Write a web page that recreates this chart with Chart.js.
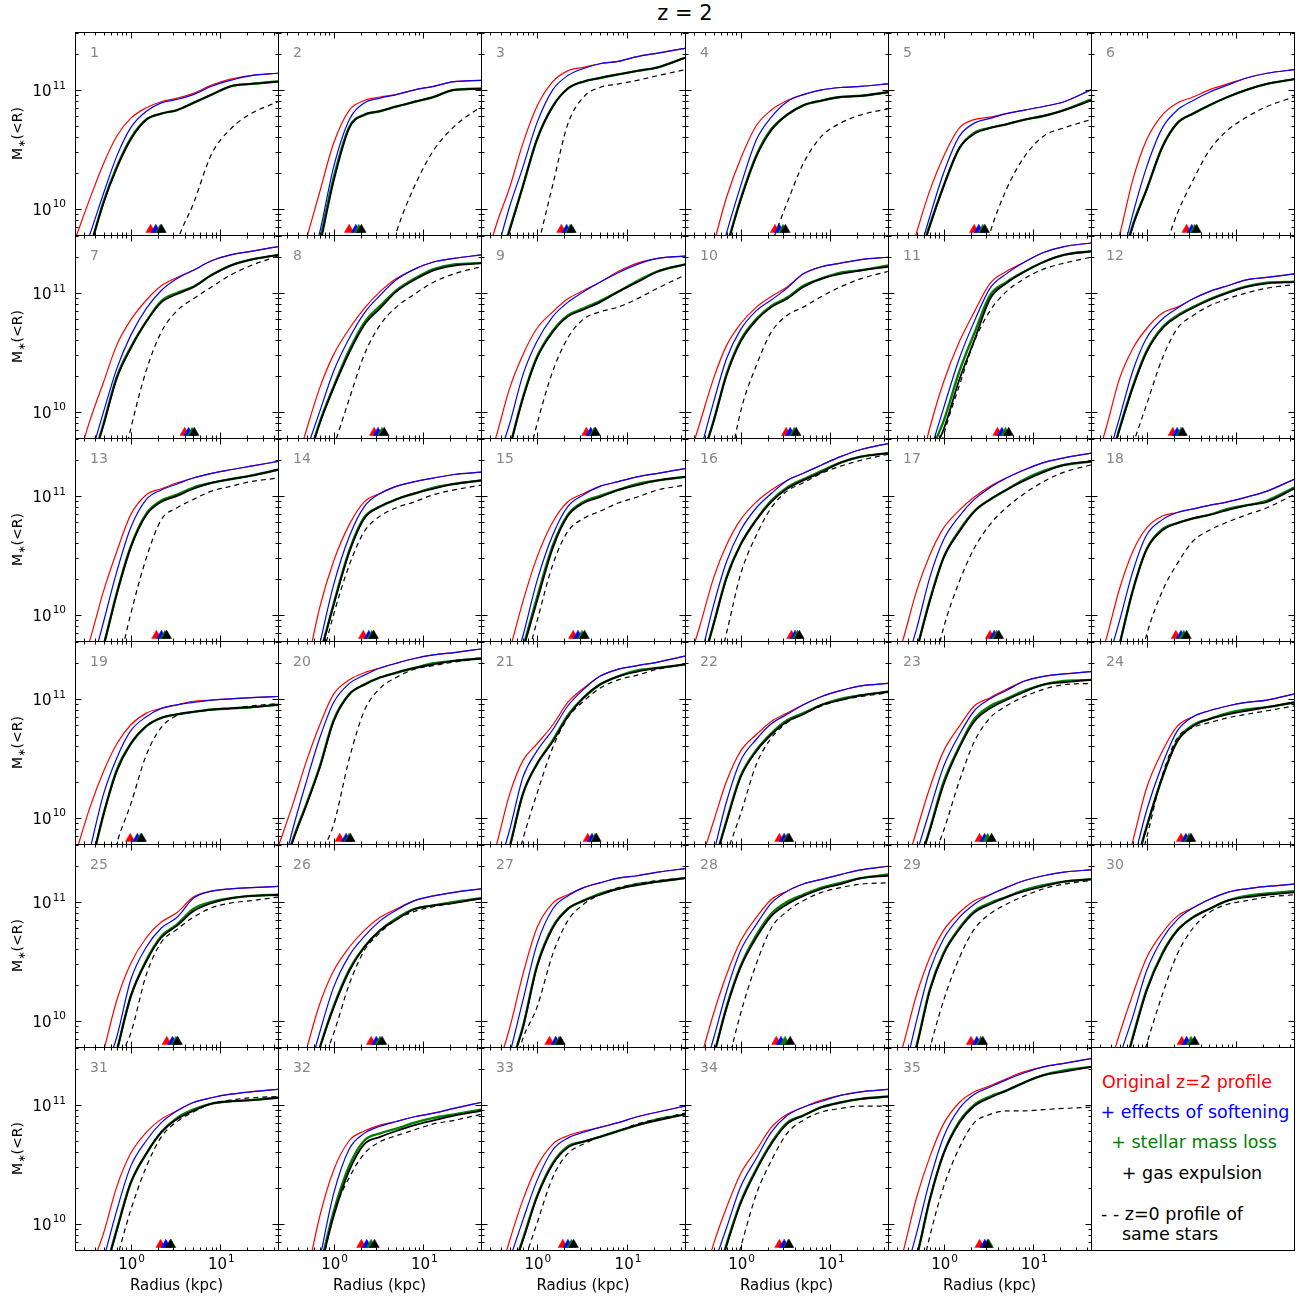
<!DOCTYPE html>
<html>
<head>
<meta charset="utf-8">
<title>z = 2</title>
<script src="https://cdn.jsdelivr.net/npm/chart.js@4.4.1/dist/chart.umd.min.js"></script>
<style>
  html, body { margin: 0; padding: 0; background: #fff; }
  #fig { position: relative; width: 1304px; height: 1297px; overflow: hidden;
         font-family: 'DejaVu Sans', sans-serif; color: #000; }
  #fig canvas { position: absolute; }
  .txt { position: absolute; white-space: nowrap; line-height: 1; }
  .mid { transform: translate(-50%, -50%); }
  .lft { transform: translate(0, -50%); }
</style>
</head>
<body>
<div id="fig">
  <div class="txt mid" style="left:685px; top:13px; font-size:21px;">z = 2</div>
  <div style="position:absolute; left:1091px; top:1047px; width:204px; height:204px; border:1px solid #000; box-sizing:border-box;"></div>
  <div class="txt mid" style="left:1187px; top:1083px; font-size:17.5px; color:#ff0000;">Original z=2 profile</div>
  <div class="txt mid" style="left:1195px; top:1113px; font-size:17.5px; color:#0000ff;">+ effects of softening</div>
  <div class="txt mid" style="left:1194px; top:1143px; font-size:17.5px; color:#008000;">+ stellar mass loss</div>
  <div class="txt mid" style="left:1192px; top:1174px; font-size:17.5px;">+ gas expulsion</div>
  <div class="txt lft" style="left:1101px; top:1215px; font-size:17.5px;">- - z=0 profile of</div>
  <div class="txt lft" style="left:1122px; top:1235px; font-size:17.5px;">same stars</div>
</div>
<script>
const _ = null;

// radii (kpc) where the profiles are sampled
const RADII = [0.24, 0.35, 0.5, 0.7, 1.0, 1.5, 2.2, 3.3, 5, 8, 13, 22, 44];

// axis ranges and ticks
const X_RANGE = [0.24, 44];
const Y_RANGE = [6e9, 3.07e11];
const X_MAJOR = [1, 10];
const X_MINOR = [0.3, 0.4, 0.5, 0.6, 0.7, 0.8, 0.9, 2, 3, 4, 5, 6, 7, 8, 9, 20, 30, 40];
const X_LABELS = ['0', '1'];
const Y_MAJOR = [1e10, 1e11];
const Y_MINOR = [7e9, 8e9, 9e9, 2e10, 3e10, 4e10, 5e10, 6e10, 7e10, 8e10, 9e10, 2e11, 3e11];
const Y_LABELS = ['10', '11'];
const MARKER_LEVEL = 6.65e9;

// log10 M*(<R) at RADII, one row per galaxy (1..35)
const ORIGINAL = [
  [9.74, 10.08, 10.38, 10.61, 10.76, 10.85, 10.90, 10.93, 10.97, 11.04, 11.09, 11.12, 11.14],
  [_, _, 9.75, 10.14, 10.55, 10.83, 10.91, 10.94, 10.96, 11.00, 11.03, 11.07, 11.08],
  [9.40, 9.85, 10.18, 10.55, 10.86, 11.07, 11.16, 11.19, 11.22, 11.24, 11.28, 11.31, 11.35],
  [_, _, 9.70, 10.10, 10.42, 10.70, 10.83, 10.91, 10.96, 11.00, 11.02, 11.03, 11.05],
  [_, 9.40, 9.80, 10.15, 10.44, 10.68, 10.75, 10.77, 10.80, 10.83, 10.86, 10.90, 11.00],
  [_, 9.40, 9.78, 10.24, 10.58, 10.79, 10.89, 10.94, 11.00, 11.05, 11.10, 11.14, 11.17],
  [9.50, 9.92, 10.25, 10.56, 10.77, 10.94, 11.06, 11.13, 11.19, 11.27, 11.32, 11.35, 11.39],
  [_, 9.45, 9.85, 10.20, 10.48, 10.70, 10.87, 11.01, 11.12, 11.20, 11.26, 11.29, 11.32],
  [9.40, 9.78, 10.20, 10.48, 10.70, 10.84, 10.95, 11.02, 11.09, 11.18, 11.25, 11.29, 11.31],
  [9.50, 9.90, 10.28, 10.56, 10.74, 10.88, 10.97, 11.05, 11.16, 11.22, 11.25, 11.28, 11.30],
  [_, _, 9.40, 9.86, 10.25, 10.59, 10.84, 11.08, 11.18, 11.26, 11.34, 11.39, 11.42],
  [9.45, 9.85, 10.28, 10.53, 10.70, 10.83, 10.88, 10.95, 11.01, 11.06, 11.11, 11.13, 11.16],
  [9.40, 9.78, 10.20, 10.53, 10.84, 11.01, 11.06, 11.11, 11.15, 11.19, 11.22, 11.25, 11.29],
  [_, _, 9.55, 10.06, 10.45, 10.76, 10.95, 11.02, 11.08, 11.12, 11.15, 11.18, 11.20],
  [_, _, 9.70, 10.11, 10.48, 10.78, 10.95, 11.02, 11.08, 11.12, 11.16, 11.19, 11.23],
  [9.50, 9.90, 10.31, 10.59, 10.80, 10.95, 11.05, 11.13, 11.19, 11.26, 11.33, 11.39, 11.44],
  [9.40, 9.78, 10.20, 10.50, 10.73, 10.88, 10.99, 11.08, 11.15, 11.22, 11.28, 11.32, 11.36],
  [9.40, 9.78, 10.22, 10.53, 10.73, 10.83, 10.86, 10.89, 10.92, 10.95, 10.99, 11.04, 11.14],
  [9.68, 10.08, 10.39, 10.62, 10.78, 10.88, 10.92, 10.95, 10.98, 10.99, 11.00, 11.01, 11.02],
  [9.75, 10.11, 10.48, 10.78, 11.04, 11.16, 11.22, 11.26, 11.30, 11.34, 11.37, 11.39, 11.42],
  [9.35, 9.75, 10.20, 10.48, 10.62, 10.78, 10.97, 11.09, 11.19, 11.25, 11.28, 11.31, 11.36],
  [_, 9.60, 9.97, 10.31, 10.56, 10.70, 10.81, 10.88, 10.95, 11.02, 11.07, 11.11, 11.13],
  [_, 9.50, 9.89, 10.25, 10.56, 10.77, 10.94, 11.01, 11.08, 11.15, 11.19, 11.21, 11.23],
  [_, _, 9.40, 9.80, 10.25, 10.56, 10.77, 10.85, 10.90, 10.94, 10.97, 10.99, 11.04],
  [_, _, 9.74, 10.17, 10.48, 10.70, 10.83, 10.91, 11.04, 11.09, 11.11, 11.12, 11.13],
  [_, 9.30, 9.76, 10.14, 10.42, 10.62, 10.76, 10.87, 10.94, 11.01, 11.05, 11.08, 11.11],
  [_, 9.55, 9.94, 10.39, 10.78, 10.99, 11.06, 11.12, 11.16, 11.20, 11.22, 11.25, 11.28],
  [_, 9.65, 10.06, 10.39, 10.67, 10.87, 11.02, 11.09, 11.15, 11.19, 11.23, 11.27, 11.30],
  [9.40, 9.78, 10.22, 10.53, 10.76, 10.91, 11.01, 11.06, 11.12, 11.18, 11.22, 11.25, 11.27],
  [_, 9.50, 9.89, 10.22, 10.53, 10.74, 10.88, 10.95, 11.02, 11.08, 11.11, 11.13, 11.15],
  [_, 9.60, 9.92, 10.31, 10.59, 10.77, 10.88, 10.95, 11.02, 11.06, 11.09, 11.11, 11.13],
  [_, _, 9.55, 10.06, 10.45, 10.70, 10.78, 10.83, 10.86, 10.90, 10.93, 10.97, 11.02],
  [_, 9.45, 9.86, 10.20, 10.48, 10.67, 10.74, 10.78, 10.81, 10.85, 10.90, 10.94, 10.99],
  [_, 9.40, 9.83, 10.14, 10.42, 10.62, 10.81, 10.92, 10.98, 11.04, 11.08, 11.11, 11.13],
  [9.35, 9.75, 10.22, 10.56, 10.84, 11.02, 11.11, 11.16, 11.22, 11.28, 11.32, 11.35, 11.39]
];

const SOFTENED = [
  [9.45, 9.78, 10.13, 10.44, 10.68, 10.82, 10.89, 10.92, 10.96, 11.03, 11.08, 11.12, 11.14],
  [_, _, 9.40, 9.80, 10.35, 10.75, 10.89, 10.93, 10.96, 11.00, 11.03, 11.07, 11.08],
  [_, 9.60, 10.02, 10.35, 10.72, 11.00, 11.12, 11.18, 11.22, 11.24, 11.28, 11.31, 11.35],
  [_, _, 9.40, 9.80, 10.19, 10.58, 10.77, 10.90, 10.96, 11.00, 11.02, 11.03, 11.05],
  [_, _, 9.55, 9.93, 10.30, 10.61, 10.72, 10.76, 10.80, 10.83, 10.86, 10.90, 11.00],
  [_, _, 9.50, 9.95, 10.35, 10.68, 10.83, 10.91, 10.98, 11.04, 11.10, 11.14, 11.17],
  [_, 9.60, 10.00, 10.36, 10.64, 10.87, 11.02, 11.12, 11.19, 11.27, 11.32, 11.35, 11.39],
  [_, _, 9.68, 10.00, 10.34, 10.62, 10.83, 10.98, 11.11, 11.20, 11.26, 11.29, 11.32],
  [_, 9.55, 9.90, 10.31, 10.59, 10.80, 10.92, 11.01, 11.09, 11.17, 11.24, 11.29, 11.31],
  [_, 9.65, 10.08, 10.45, 10.69, 10.85, 10.94, 11.04, 11.16, 11.22, 11.25, 11.28, 11.30],
  [_, _, _, 9.65, 10.03, 10.45, 10.76, 11.04, 11.16, 11.26, 11.34, 11.39, 11.42],
  [_, 9.55, 9.95, 10.34, 10.62, 10.78, 10.87, 10.95, 11.01, 11.06, 11.11, 11.13, 11.16],
  [_, 9.50, 9.94, 10.36, 10.73, 10.97, 11.05, 11.10, 11.15, 11.19, 11.22, 11.25, 11.29],
  [_, _, _, 9.75, 10.25, 10.66, 10.91, 11.02, 11.08, 11.12, 11.15, 11.18, 11.20],
  [_, _, 9.45, 9.82, 10.28, 10.67, 10.91, 11.01, 11.08, 11.12, 11.16, 11.19, 11.23],
  [_, 9.60, 10.08, 10.45, 10.71, 10.90, 11.02, 11.13, 11.19, 11.26, 11.33, 11.39, 11.44],
  [_, 9.50, 9.88, 10.31, 10.63, 10.83, 10.97, 11.07, 11.15, 11.22, 11.28, 11.32, 11.36],
  [_, 9.55, 9.95, 10.36, 10.67, 10.80, 10.86, 10.89, 10.92, 10.95, 10.99, 11.04, 11.14],
  [_, 9.72, 10.20, 10.50, 10.73, 10.85, 10.92, 10.95, 10.97, 10.99, 11.00, 11.01, 11.02],
  [9.40, 9.90, 10.31, 10.67, 10.97, 11.13, 11.20, 11.26, 11.30, 11.34, 11.37, 11.39, 11.42],
  [_, 9.50, 9.90, 10.34, 10.56, 10.74, 10.94, 11.08, 11.19, 11.25, 11.28, 11.31, 11.36],
  [_, _, 9.70, 10.14, 10.48, 10.66, 10.79, 10.87, 10.95, 11.02, 11.07, 11.11, 11.13],
  [_, _, 9.70, 10.06, 10.43, 10.70, 10.90, 11.00, 11.07, 11.15, 11.19, 11.21, 11.23],
  [_, _, _, 9.60, 10.06, 10.45, 10.73, 10.85, 10.90, 10.94, 10.97, 10.99, 11.04],
  [_, _, 9.55, 9.86, 10.34, 10.62, 10.78, 10.87, 11.03, 11.09, 11.11, 11.12, 11.13],
  [_, _, 9.50, 9.90, 10.28, 10.55, 10.71, 10.84, 10.93, 11.01, 11.05, 11.08, 11.11],
  [_, 9.30, 9.72, 10.17, 10.64, 10.94, 11.05, 11.12, 11.16, 11.20, 11.22, 11.25, 11.28],
  [_, 9.45, 9.85, 10.25, 10.59, 10.81, 10.99, 11.09, 11.15, 11.19, 11.23, 11.27, 11.30],
  [_, 9.50, 10.00, 10.42, 10.69, 10.87, 10.98, 11.06, 11.12, 11.18, 11.22, 11.25, 11.27],
  [_, _, 9.70, 10.03, 10.42, 10.69, 10.85, 10.95, 11.02, 11.08, 11.11, 11.13, 11.15],
  [_, _, 9.70, 10.11, 10.48, 10.70, 10.85, 10.95, 11.02, 11.06, 11.09, 11.11, 11.13],
  [_, _, _, 9.70, 10.25, 10.63, 10.76, 10.82, 10.86, 10.90, 10.93, 10.97, 11.02],
  [_, _, 9.70, 10.03, 10.36, 10.62, 10.72, 10.77, 10.81, 10.85, 10.90, 10.94, 10.99],
  [_, _, 9.65, 9.97, 10.31, 10.55, 10.77, 10.91, 10.98, 11.03, 11.08, 11.11, 11.13],
  [_, 9.50, 9.92, 10.36, 10.73, 10.97, 11.09, 11.15, 11.21, 11.27, 11.32, 11.35, 11.39]
];

const MASS_LOSS = [
  [_, 9.66, 10.06, 10.35, 10.59, 10.75, 10.80, 10.83, 10.89, 10.96, 11.03, 11.05, 11.07],
  [_, _, _, 9.72, 10.26, 10.69, 10.79, 10.82, 10.86, 10.90, 10.94, 11.00, 11.01],
  [_, 9.45, 9.83, 10.19, 10.58, 10.86, 11.01, 11.07, 11.10, 11.13, 11.16, 11.19, 11.27],
  [_, _, _, 9.68, 10.08, 10.45, 10.67, 10.79, 10.87, 10.91, 10.94, 10.95, 10.98],
  [_, _, 9.50, 9.86, 10.19, 10.51, 10.64, 10.68, 10.71, 10.75, 10.78, 10.83, 10.92],
  [_, _, 9.45, 9.86, 10.16, 10.52, 10.72, 10.80, 10.87, 10.94, 11.00, 11.05, 11.09],
  [_, 9.50, 9.90, 10.29, 10.54, 10.76, 10.93, 11.00, 11.05, 11.15, 11.23, 11.28, 11.32],
  [_, _, 9.55, 9.91, 10.21, 10.52, 10.75, 10.89, 11.02, 11.12, 11.20, 11.24, 11.25],
  [_, _, 9.70, 10.12, 10.46, 10.68, 10.81, 10.87, 10.93, 11.01, 11.10, 11.18, 11.24],
  [_, 9.55, 9.92, 10.32, 10.60, 10.78, 10.89, 10.96, 11.06, 11.12, 11.17, 11.19, 11.23],
  [_, _, _, 9.65, 9.92, 10.34, 10.66, 10.98, 11.09, 11.18, 11.26, 11.32, 11.35],
  [_, 9.45, 9.86, 10.21, 10.51, 10.71, 10.81, 10.88, 10.945, 11.005, 11.055, 11.085, 11.095],
  [_, 9.35, 9.74, 10.18, 10.57, 10.85, 10.96, 11.01, 11.07, 11.11, 11.14, 11.17, 11.22],
  [_, _, _, 9.65, 10.09, 10.54, 10.82, 10.91, 10.97, 11.02, 11.07, 11.10, 11.13],
  [_, _, _, 9.72, 10.14, 10.58, 10.84, 10.95, 11.00, 11.05, 11.10, 11.13, 11.16],
  [_, 9.50, 9.92, 10.32, 10.59, 10.80, 10.96, 11.07, 11.14, 11.21, 11.28, 11.33, 11.36],
  [_, _, 9.70, 10.12, 10.48, 10.71, 10.87, 10.97, 11.05, 11.14, 11.21, 11.26, 11.29],
  [_, _, 9.75, 10.20, 10.55, 10.72, 10.77, 10.81, 10.84, 10.89, 10.92, 10.96, 11.07],
  [_, 9.55, 10.03, 10.40, 10.62, 10.77, 10.84, 10.87, 10.89, 10.91, 10.92, 10.93, 10.95],
  [9.40, 9.81, 10.12, 10.43, 10.82, 11.04, 11.12, 11.18, 11.22, 11.26, 11.30, 11.32, 11.34],
  [_, 9.35, 9.76, 10.20, 10.45, 10.65, 10.86, 11.01, 11.12, 11.19, 11.24, 11.26, 11.29],
  [_, _, 9.60, 9.98, 10.35, 10.57, 10.71, 10.82, 10.88, 10.95, 11.00, 11.03, 11.06],
  [_, _, 9.55, 9.90, 10.30, 10.60, 10.83, 10.94, 11.00, 11.07, 11.12, 11.15, 11.16],
  [_, _, _, 9.50, 9.92, 10.34, 10.65, 10.78, 10.83, 10.88, 10.91, 10.93, 10.97],
  [_, _, _, 9.74, 10.20, 10.51, 10.71, 10.81, 10.94, 11.00, 11.03, 11.05, 11.06],
  [_, _, 9.40, 9.77, 10.12, 10.43, 10.62, 10.76, 10.86, 10.94, 10.97, 11.00, 11.03],
  [_, _, 9.60, 9.95, 10.46, 10.79, 10.94, 11.01, 11.07, 11.11, 11.15, 11.17, 11.20],
  [_, _, 9.70, 10.12, 10.46, 10.72, 10.90, 11.00, 11.06, 11.12, 11.16, 11.20, 11.23],
  [_, 9.40, 9.79, 10.26, 10.57, 10.78, 10.92, 10.99, 11.04, 11.10, 11.14, 11.17, 11.19],
  [_, _, 9.45, 9.86, 10.26, 10.57, 10.76, 10.87, 10.94, 11.01, 11.05, 11.07, 11.09],
  [_, _, 9.55, 9.95, 10.34, 10.59, 10.77, 10.89, 10.96, 11.01, 11.03, 11.04, 11.06],
  [_, _, _, 9.62, 10.10, 10.49, 10.70, 10.76, 10.80, 10.85, 10.89, 10.92, 10.96],
  [_, _, 9.55, 9.87, 10.23, 10.51, 10.65, 10.69, 10.73, 10.78, 10.83, 10.88, 10.92],
  [_, _, 9.45, 9.83, 10.18, 10.46, 10.68, 10.85, 10.91, 10.98, 11.02, 11.05, 11.07],
  [_, 9.40, 9.72, 10.20, 10.59, 10.86, 11.00, 11.07, 11.12, 11.19, 11.25, 11.29, 11.32]
];

const GAS_EXPELLED = [
  [_, 9.66, 10.05, 10.34, 10.58, 10.75, 10.80, 10.83, 10.89, 10.96, 11.03, 11.05, 11.07],
  [_, _, _, 9.68, 10.23, 10.68, 10.79, 10.82, 10.86, 10.90, 10.94, 11.00, 11.01],
  [_, 9.45, 9.82, 10.19, 10.58, 10.86, 11.01, 11.07, 11.10, 11.13, 11.16, 11.19, 11.27],
  [_, _, _, 9.68, 10.07, 10.44, 10.66, 10.79, 10.87, 10.91, 10.94, 10.95, 10.98],
  [_, _, 9.50, 9.85, 10.19, 10.51, 10.63, 10.68, 10.71, 10.75, 10.78, 10.83, 10.91],
  [_, _, 9.45, 9.85, 10.16, 10.52, 10.72, 10.80, 10.87, 10.94, 11.00, 11.05, 11.09],
  [_, 9.50, 9.89, 10.28, 10.53, 10.76, 10.92, 10.99, 11.05, 11.15, 11.23, 11.28, 11.32],
  [_, _, 9.55, 9.90, 10.20, 10.50, 10.73, 10.87, 11.01, 11.11, 11.19, 11.23, 11.25],
  [_, _, 9.70, 10.11, 10.45, 10.67, 10.80, 10.86, 10.92, 11.01, 11.09, 11.18, 11.24],
  [_, 9.55, 9.92, 10.31, 10.59, 10.77, 10.88, 10.95, 11.05, 11.12, 11.16, 11.19, 11.22],
  [_, _, _, 9.60, 9.85, 10.27, 10.60, 10.95, 11.08, 11.18, 11.26, 11.32, 11.35],
  [_, 9.45, 9.85, 10.20, 10.50, 10.70, 10.80, 10.875, 10.94, 11.00, 11.05, 11.08, 11.09],
  [_, 9.35, 9.74, 10.17, 10.56, 10.84, 10.95, 11.00, 11.06, 11.11, 11.14, 11.17, 11.22],
  [_, _, _, 9.65, 10.08, 10.53, 10.81, 10.91, 10.97, 11.02, 11.06, 11.10, 11.13],
  [_, _, _, 9.70, 10.11, 10.56, 10.83, 10.94, 10.99, 11.05, 11.09, 11.13, 11.16],
  [_, 9.50, 9.92, 10.31, 10.59, 10.80, 10.95, 11.06, 11.13, 11.20, 11.28, 11.33, 11.36],
  [_, _, 9.70, 10.11, 10.48, 10.70, 10.87, 10.97, 11.05, 11.13, 11.20, 11.26, 11.29],
  [_, _, 9.75, 10.20, 10.55, 10.71, 10.77, 10.81, 10.84, 10.88, 10.92, 10.95, 11.06],
  [_, 9.55, 10.03, 10.39, 10.62, 10.77, 10.84, 10.87, 10.89, 10.91, 10.92, 10.93, 10.95],
  [9.40, 9.80, 10.11, 10.42, 10.81, 11.04, 11.12, 11.18, 11.22, 11.26, 11.29, 11.32, 11.34],
  [_, 9.35, 9.75, 10.20, 10.45, 10.64, 10.85, 11.01, 11.12, 11.19, 11.23, 11.26, 11.29],
  [_, _, 9.60, 9.97, 10.34, 10.56, 10.70, 10.81, 10.87, 10.95, 10.99, 11.03, 11.06],
  [_, _, 9.55, 9.89, 10.28, 10.59, 10.81, 10.92, 10.99, 11.06, 11.12, 11.14, 11.16],
  [_, _, _, 9.50, 9.92, 10.34, 10.64, 10.77, 10.83, 10.87, 10.90, 10.93, 10.97],
  [_, _, _, 9.74, 10.20, 10.50, 10.70, 10.80, 10.92, 10.99, 11.03, 11.05, 11.06],
  [_, _, 9.40, 9.77, 10.11, 10.42, 10.62, 10.76, 10.85, 10.94, 10.97, 10.99, 11.03],
  [_, _, 9.60, 9.94, 10.45, 10.78, 10.94, 11.01, 11.06, 11.11, 11.14, 11.17, 11.20],
  [_, _, 9.70, 10.11, 10.45, 10.70, 10.88, 10.98, 11.05, 11.11, 11.15, 11.20, 11.22],
  [_, 9.40, 9.78, 10.25, 10.56, 10.77, 10.91, 10.98, 11.04, 11.09, 11.13, 11.17, 11.19],
  [_, _, 9.45, 9.85, 10.25, 10.56, 10.76, 10.87, 10.94, 11.01, 11.04, 11.06, 11.08],
  [_, _, 9.55, 9.94, 10.34, 10.59, 10.77, 10.88, 10.95, 11.01, 11.03, 11.04, 11.06],
  [_, _, _, 9.60, 10.06, 10.45, 10.67, 10.73, 10.78, 10.83, 10.87, 10.91, 10.95],
  [_, _, 9.55, 9.86, 10.22, 10.50, 10.64, 10.69, 10.73, 10.78, 10.83, 10.87, 10.92],
  [_, _, 9.45, 9.82, 10.17, 10.45, 10.67, 10.84, 10.91, 10.98, 11.02, 11.05, 11.07],
  [_, 9.40, 9.72, 10.20, 10.59, 10.85, 10.99, 11.06, 11.12, 11.19, 11.25, 11.28, 11.32]
];

const Z0_PROFILE = [
  [_, _, _, _, _, _, 9.20, 9.72, 10.04, 10.46, 10.67, 10.80, 10.90],
  [_, _, _, _, _, _, _, 9.30, 9.80, 10.19, 10.49, 10.69, 10.86],
  [_, _, _, _, 9.65, 10.20, 10.71, 10.94, 11.02, 11.05, 11.08, 11.12, 11.17],
  [_, _, _, _, _, _, 9.70, 10.05, 10.38, 10.61, 10.72, 10.79, 10.84],
  [_, _, _, _, _, _, 9.30, 9.80, 10.16, 10.44, 10.61, 10.68, 10.75],
  [_, _, _, _, _, 9.60, 9.96, 10.24, 10.49, 10.66, 10.77, 10.86, 10.94],
  [_, _, _, 9.30, 9.85, 10.35, 10.67, 10.85, 10.95, 11.05, 11.15, 11.23, 11.31],
  [_, _, _, _, 9.70, 10.11, 10.48, 10.73, 10.88, 10.99, 11.09, 11.16, 11.22],
  [_, _, _, 9.40, 9.89, 10.34, 10.62, 10.78, 10.84, 10.88, 10.95, 11.04, 11.15],
  [_, _, _, 9.40, 10.00, 10.39, 10.67, 10.81, 10.88, 10.97, 11.05, 11.12, 11.18],
  [_, _, _, 9.30, 9.80, 10.22, 10.59, 10.85, 11.01, 11.12, 11.20, 11.25, 11.30],
  [_, _, _, 9.72, 10.06, 10.45, 10.70, 10.81, 10.89, 10.95, 11.00, 11.04, 11.07],
  [_, _, _, 9.50, 10.00, 10.48, 10.80, 10.90, 10.97, 11.04, 11.08, 11.12, 11.15],
  [_, _, _, 9.55, 10.00, 10.42, 10.70, 10.83, 10.90, 10.95, 11.01, 11.05, 11.09],
  [_, _, _, 9.50, 9.94, 10.42, 10.70, 10.81, 10.87, 10.94, 10.99, 11.05, 11.09],
  [_, _, 9.40, 9.85, 10.34, 10.67, 10.90, 11.04, 11.11, 11.19, 11.25, 11.30, 11.35],
  [_, _, _, 9.40, 9.89, 10.28, 10.56, 10.76, 10.90, 11.02, 11.12, 11.20, 11.26],
  [_, _, _, 9.35, 9.83, 10.20, 10.43, 10.62, 10.71, 10.78, 10.84, 10.90, 11.01],
  [_, _, 9.30, 9.78, 10.11, 10.53, 10.76, 10.86, 10.89, 10.91, 10.92, 10.94, 10.96],
  [_, _, _, 9.68, 9.94, 10.50, 10.90, 11.09, 11.18, 11.25, 11.28, 11.31, 11.34],
  [_, _, 9.40, 9.82, 10.20, 10.59, 10.84, 10.98, 11.09, 11.16, 11.20, 11.25, 11.29],
  [_, _, _, 9.70, 10.03, 10.45, 10.67, 10.80, 10.87, 10.94, 10.99, 11.02, 11.05],
  [_, _, _, 9.60, 9.89, 10.31, 10.64, 10.84, 10.94, 11.02, 11.08, 11.12, 11.13],
  [_, _, _, 9.40, 9.83, 10.36, 10.67, 10.76, 10.80, 10.84, 10.87, 10.90, 10.94],
  [_, _, _, 9.66, 9.89, 10.39, 10.66, 10.77, 10.87, 10.95, 10.99, 11.01, 11.04],
  [_, _, _, 9.60, 9.89, 10.31, 10.59, 10.74, 10.85, 10.92, 10.96, 10.99, 11.03],
  [_, _, 9.45, 9.85, 10.11, 10.56, 10.84, 10.98, 11.06, 11.12, 11.15, 11.18, 11.20],
  [_, _, _, 9.60, 10.06, 10.48, 10.78, 10.92, 11.01, 11.08, 11.12, 11.15, 11.16],
  [_, _, 9.30, 9.76, 10.17, 10.53, 10.77, 10.90, 10.98, 11.05, 11.11, 11.15, 11.18],
  [_, _, _, 9.40, 9.80, 10.22, 10.56, 10.78, 10.91, 10.98, 11.01, 11.04, 11.06],
  [_, _, _, 9.70, 10.11, 10.48, 10.73, 10.86, 10.94, 11.01, 11.04, 11.06, 11.07],
  [_, _, _, 9.55, 10.08, 10.39, 10.59, 10.69, 10.74, 10.79, 10.84, 10.87, 10.92],
  [_, _, _, 9.65, 10.00, 10.39, 10.59, 10.67, 10.73, 10.78, 10.84, 10.88, 10.93],
  [_, _, _, 9.40, 9.80, 10.25, 10.53, 10.76, 10.87, 10.94, 10.97, 10.99, 10.99],
  [_, _, 9.40, 9.89, 10.31, 10.64, 10.85, 10.92, 10.95, 10.95, 10.96, 10.97, 10.98]
];

// half-mass radii (kpc): original, softened, mass loss, gas expelled
const HALF_MASS = [
  [1.67, 1.91, 2.14, 2.21], [1.49, 1.77, 1.91, 2.04], [1.87, 2.14, 2.34, 2.42],
  [2.42, 2.71, 2.97, 3.16], [2.19, 2.47, 2.74, 2.88], [2.79, 3.19, 3.43, 3.61],
  [4.01, 4.44, 4.85, 5.13], [2.83, 3.13, 3.47, 3.67], [3.54, 3.96, 4.33, 4.48],
  [3.22, 3.57, 3.96, 4.17], [3.99, 4.47, 4.90, 5.32], [1.96, 2.19, 2.42, 2.52],
  [1.94, 2.21, 2.42, 2.53], [2.14, 2.47, 2.67, 2.80], [2.53, 2.86, 3.17, 3.38],
  [3.69, 4.04, 4.30, 4.52], [3.29, 3.67, 3.92, 4.13], [2.12, 2.42, 2.60, 2.79],
  [0.99, 1.19, 1.29, 1.33], [1.17, 1.38, 1.49, 1.54], [3.67, 4.09, 4.44, 4.58],
  [2.71, 3.06, 3.33, 3.47], [2.52, 2.86, 3.10, 3.43], [2.42, 2.74, 2.97, 3.13],
  [2.53, 2.93, 3.20, 3.35], [2.62, 2.99, 3.28, 3.47], [1.38, 1.62, 1.77, 1.83],
  [2.50, 2.82, 3.13, 3.57], [2.02, 2.35, 2.60, 2.74], [2.47, 2.79, 3.13, 3.43],
  [2.16, 2.47, 2.83, 2.78], [2.04, 2.34, 2.62, 2.86], [1.94, 2.21, 2.42, 2.56],
  [2.71, 3.06, 3.40, 3.47], [2.52, 2.88, 3.19, 3.10]
];

const COLORS = ['#ff0000', '#0000ff', '#008000', '#000000'];
const FONT = '"DejaVu Sans", sans-serif';

// grid geometry
const GRID_LEFT = 75, GRID_RIGHT = 1294, GRID_TOP = 32, PANEL_H = 203;
const PAD = { left: 75, right: 8, top: 8, bottom: 48 };
const colEdge = c => Math.round(GRID_LEFT + c * (GRID_RIGHT - GRID_LEFT) / 6);

function drawPow(ctx, exp, x, y, align) {
  ctx.font = '15px ' + FONT;
  const wb = ctx.measureText('10').width;
  ctx.font = '10.5px ' + FONT;
  const we = ctx.measureText(exp).width;
  const left = align === 'right' ? x - wb - we - 1 : x - (wb + we + 1) / 2;
  ctx.textAlign = 'left';
  ctx.textBaseline = 'middle';
  ctx.font = '15px ' + FONT;
  ctx.fillText('10', left, y);
  ctx.font = '10.5px ' + FONT;
  ctx.fillText(exp, left + wb + 1, y - 6);
}

const framePlugin = {
  id: 'frame',
  afterDraw(chart, args, opts) {
    const { ctx, chartArea: a } = chart;
    const xs = chart.scales.x, ys = chart.scales.y;
    const L = a.left + 0.5, R = a.right + 0.5, T = a.top + 0.5, B = a.bottom + 0.5;
    ctx.save();
    ctx.strokeStyle = '#000';
    ctx.lineWidth = 1;
    ctx.beginPath();
    const tickX = (v, len) => {
      const px = Math.round(xs.getPixelForValue(v)) + 0.5;
      ctx.moveTo(px, B); ctx.lineTo(px, B - len);
      ctx.moveTo(px, T); ctx.lineTo(px, T + len);
    };
    const tickY = (v, len) => {
      const py = Math.round(ys.getPixelForValue(v)) + 0.5;
      ctx.moveTo(L, py); ctx.lineTo(L + len, py);
      ctx.moveTo(R, py); ctx.lineTo(R - len, py);
    };
    X_MAJOR.forEach(v => tickX(v, 6));
    X_MINOR.forEach(v => tickX(v, 3));
    Y_MAJOR.forEach(v => tickY(v, 6));
    Y_MINOR.forEach(v => tickY(v, 3));
    ctx.stroke();
    ctx.strokeRect(L, T, a.right - a.left, a.bottom - a.top);

    // panel number
    ctx.fillStyle = '#888888';
    ctx.font = '14px ' + FONT;
    ctx.textAlign = 'left';
    ctx.textBaseline = 'middle';
    ctx.fillText(String(opts.num), a.left + 15, a.top + 21);

    ctx.fillStyle = '#000';
    if (opts.col === 0) {
      Y_MAJOR.forEach((v, i) => drawPow(ctx, Y_LABELS[i], a.left - 9, ys.getPixelForValue(v) + 2, 'right'));
      // rotated y label M*(<R)
      ctx.save();
      ctx.translate(18, (a.top + a.bottom) / 2);
      ctx.rotate(-Math.PI / 2);
      ctx.font = '14px ' + FONT;
      const w1 = ctx.measureText('M').width;
      const w3 = ctx.measureText('(<R)').width;
      ctx.font = '10px ' + FONT;
      const w2 = ctx.measureText('\u2217').width;
      const x = -(w1 + w2 + w3) / 2;
      ctx.textBaseline = 'middle';
      ctx.font = '14px ' + FONT;
      ctx.fillText('M', x, 0);
      ctx.font = '10px ' + FONT;
      ctx.fillText('\u2217', x + w1, 4);
      ctx.font = '14px ' + FONT;
      ctx.fillText('(<R)', x + w1 + w2, 0);
      ctx.restore();
    }
    if (opts.row === 5) {
      X_MAJOR.forEach((v, i) => drawPow(ctx, X_LABELS[i], xs.getPixelForValue(v) + 1, a.bottom + 15, 'center'));
      ctx.font = '15px ' + FONT;
      ctx.textAlign = 'center';
      ctx.textBaseline = 'middle';
      ctx.fillText('Radius (kpc)', (a.left + a.right) / 2, a.bottom + 36);
    }
    ctx.restore();
  }
};

function toPoints(logs) {
  return RADII.map((r, i) => ({ x: r, y: logs[i] == null ? null : Math.pow(10, logs[i]) }));
}

function profile(logs, color, width, order, dash) {
  return {
    data: toPoints(logs),
    borderColor: color,
    borderWidth: width,
    borderDash: dash || [],
    pointRadius: 0,
    fill: false,
    cubicInterpolationMode: 'monotone',
    order: order
  };
}

function marker(r, color, order) {
  return {
    data: [{ x: r, y: MARKER_LEVEL }],
    showLine: false,
    pointStyle: 'triangle',
    pointRadius: 5.5,
    pointBackgroundColor: color,
    pointBorderColor: color,
    pointBorderWidth: 0.5,
    clip: false,
    order: order
  };
}

const fig = document.getElementById('fig');

for (let i = 0; i < 35; i++) {
  const col = i % 6, row = Math.floor(i / 6);
  const left = colEdge(col), right = colEdge(col + 1);
  const top = GRID_TOP + row * PANEL_H;
  const w = right - left + PAD.left + PAD.right;
  const h = PANEL_H + PAD.top + PAD.bottom;

  const canvas = document.createElement('canvas');
  canvas.width = w;
  canvas.height = h;
  canvas.style.left = (left - PAD.left) + 'px';
  canvas.style.top = (top - PAD.top) + 'px';
  canvas.style.width = w + 'px';
  canvas.style.height = h + 'px';
  fig.appendChild(canvas);

  // higher order is drawn first (underneath)
  const datasets = [
    profile(ORIGINAL[i], COLORS[0], 1.2, 9),
    profile(SOFTENED[i], COLORS[1], 1.2, 8),
    profile(MASS_LOSS[i], COLORS[2], 2.4, 7),
    profile(GAS_EXPELLED[i], COLORS[3], 1.8, 6),
    profile(Z0_PROFILE[i], '#000000', 1.2, 5, [5, 4])
  ];
  HALF_MASS[i].forEach((r, k) => datasets.push(marker(r, COLORS[k], 4 - k)));

  new Chart(canvas, {
    type: 'line',
    data: { datasets },
    options: {
      responsive: false,
      animation: false,
      events: [],
      devicePixelRatio: 1,
      layout: { padding: PAD },
      plugins: {
        legend: { display: false },
        tooltip: { enabled: false },
        frame: { num: i + 1, col, row }
      },
      scales: {
        x: { type: 'logarithmic', min: X_RANGE[0], max: X_RANGE[1], display: false },
        y: { type: 'logarithmic', min: Y_RANGE[0], max: Y_RANGE[1], display: false }
      }
    },
    plugins: [framePlugin]
  });
}
</script>
</body>
</html>
